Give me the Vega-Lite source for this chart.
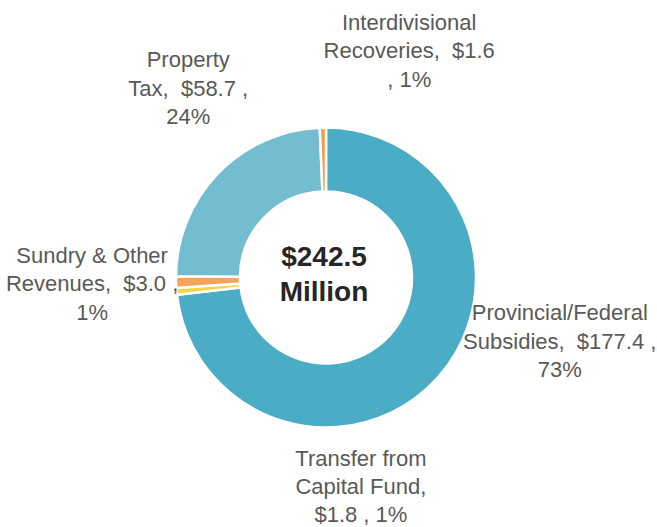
{
  "$schema": "https://vega.github.io/schema/vega-lite/v6.json",
  "autosize": {"type": "none"},
  "width": 652,
  "height": 499,
  "padding": {"left": 0, "right": 5, "top": 28, "bottom": 0},
  "background": "white",
  "view": {"stroke": null},
  "data": {
    "values": [
      {"k": 1, "cat": "Provincial/Federal Subsidies", "value": 177.4, "label": "Provincial/Federal\nSubsidies, \u00a0$177.4 ,\n73%"},
      {"k": 2, "cat": "Transfer from Capital Fund", "value": 1.8, "label": "Transfer from\nCapital Fund,\n$1.8 , 1%"},
      {"k": 3, "cat": "Sundry & Other Revenues", "value": 3.0, "label": "Sundry & Other\nRevenues, \u00a0$3.0 ,\n1%"},
      {"k": 4, "cat": "Property Tax", "value": 58.7, "label": "Property\nTax, \u00a0$58.7 ,\n24%"},
      {"k": 5, "cat": "Interdivisional Recoveries", "value": 1.6, "label": "Interdivisional\nRecoveries, \u00a0$1.6\n, 1%"}
    ]
  },
  "layer": [
    {
      "mark": {"type": "arc", "outerRadius": 150, "innerRadius": 86, "stroke": "white", "strokeWidth": 2.5},
      "encoding": {
        "theta": {"field": "value", "type": "quantitative", "stack": true},
        "order": {"field": "k", "type": "quantitative"},
        "color": {
          "field": "cat", "type": "nominal", "legend": null,
          "scale": {
            "domain": ["Provincial/Federal Subsidies", "Transfer from Capital Fund", "Sundry & Other Revenues", "Property Tax", "Interdivisional Recoveries"],
            "range": ["#4BACC6", "#F5D44A", "#F7A35C", "#74BDD0", "#F59B4C"]
          }
        }
      }
    },
    {
      "transform": [
        {"stack": "value", "groupby": [], "sort": [{"field": "k"}], "as": ["v0", "v1"]},
        {"calculate": "(datum.v0 + datum.v1) / 2", "as": "mid"},
        {"filter": "datum.k === 1"}
      ],
      "mark": {"type": "text", "radius": 246, "dx": 50, "dy": -128, "font": "Liberation Sans", "fontSize": 22, "lineHeight": 28.5, "color": "#595959", "align": "center", "baseline": "middle", "lineBreak": "\n"},
      "encoding": {"theta": {"field": "mid", "type": "quantitative"}, "text": {"field": "label"}}
    },
    {
      "transform": [
        {"stack": "value", "groupby": [], "sort": [{"field": "k"}], "as": ["v0", "v1"]},
        {"calculate": "(datum.v0 + datum.v1) / 2", "as": "mid"},
        {"filter": "datum.k === 2"}
      ],
      "mark": {"type": "text", "radius": 212, "dx": 246, "dy": 162, "font": "Liberation Sans", "fontSize": 22, "lineHeight": 28, "color": "#595959", "align": "center", "baseline": "middle", "lineBreak": "\n"},
      "encoding": {"theta": {"field": "mid", "type": "quantitative"}, "text": {"field": "label"}}
    },
    {
      "transform": [
        {"stack": "value", "groupby": [], "sort": [{"field": "k"}], "as": ["v0", "v1"]},
        {"calculate": "(datum.v0 + datum.v1) / 2", "as": "mid"},
        {"filter": "datum.k === 3"}
      ],
      "mark": {"type": "text", "radius": 234, "dx": 0, "dy": -29, "font": "Liberation Sans", "fontSize": 22, "lineHeight": 28.5, "color": "#595959", "align": "center", "baseline": "middle", "lineBreak": "\n"},
      "encoding": {"theta": {"field": "mid", "type": "quantitative"}, "text": {"field": "label"}}
    },
    {
      "transform": [
        {"stack": "value", "groupby": [], "sort": [{"field": "k"}], "as": ["v0", "v1"]},
        {"calculate": "(datum.v0 + datum.v1) / 2", "as": "mid"},
        {"filter": "datum.k === 4"}
      ],
      "mark": {"type": "text", "radius": 232, "dx": 29, "dy": -56, "font": "Liberation Sans", "fontSize": 22, "lineHeight": 28.5, "color": "#595959", "align": "center", "baseline": "middle", "lineBreak": "\n"},
      "encoding": {"theta": {"field": "mid", "type": "quantitative"}, "text": {"field": "label"}}
    },
    {
      "transform": [
        {"stack": "value", "groupby": [], "sort": [{"field": "k"}], "as": ["v0", "v1"]},
        {"calculate": "(datum.v0 + datum.v1) / 2", "as": "mid"},
        {"filter": "datum.k === 5"}
      ],
      "mark": {"type": "text", "radius": 232, "dx": 88, "dy": -23, "font": "Liberation Sans", "fontSize": 22, "lineHeight": 28.5, "color": "#595959", "align": "center", "baseline": "middle", "lineBreak": "\n"},
      "encoding": {"theta": {"field": "mid", "type": "quantitative"}, "text": {"field": "label"}}
    },
    {
      "data": {"values": [{"title": "$242.5\nMillion"}]},
      "mark": {"type": "text", "x": {"expr": "width / 2"}, "y": {"expr": "height / 2"}, "dx": -2, "dy": -20, "font": "Liberation Sans", "fontWeight": "bold", "fontSize": 28, "lineHeight": 35, "color": "#262626", "align": "center", "baseline": "middle", "lineBreak": "\n"},
      "encoding": {"text": {"field": "title"}}
    }
  ]
}
